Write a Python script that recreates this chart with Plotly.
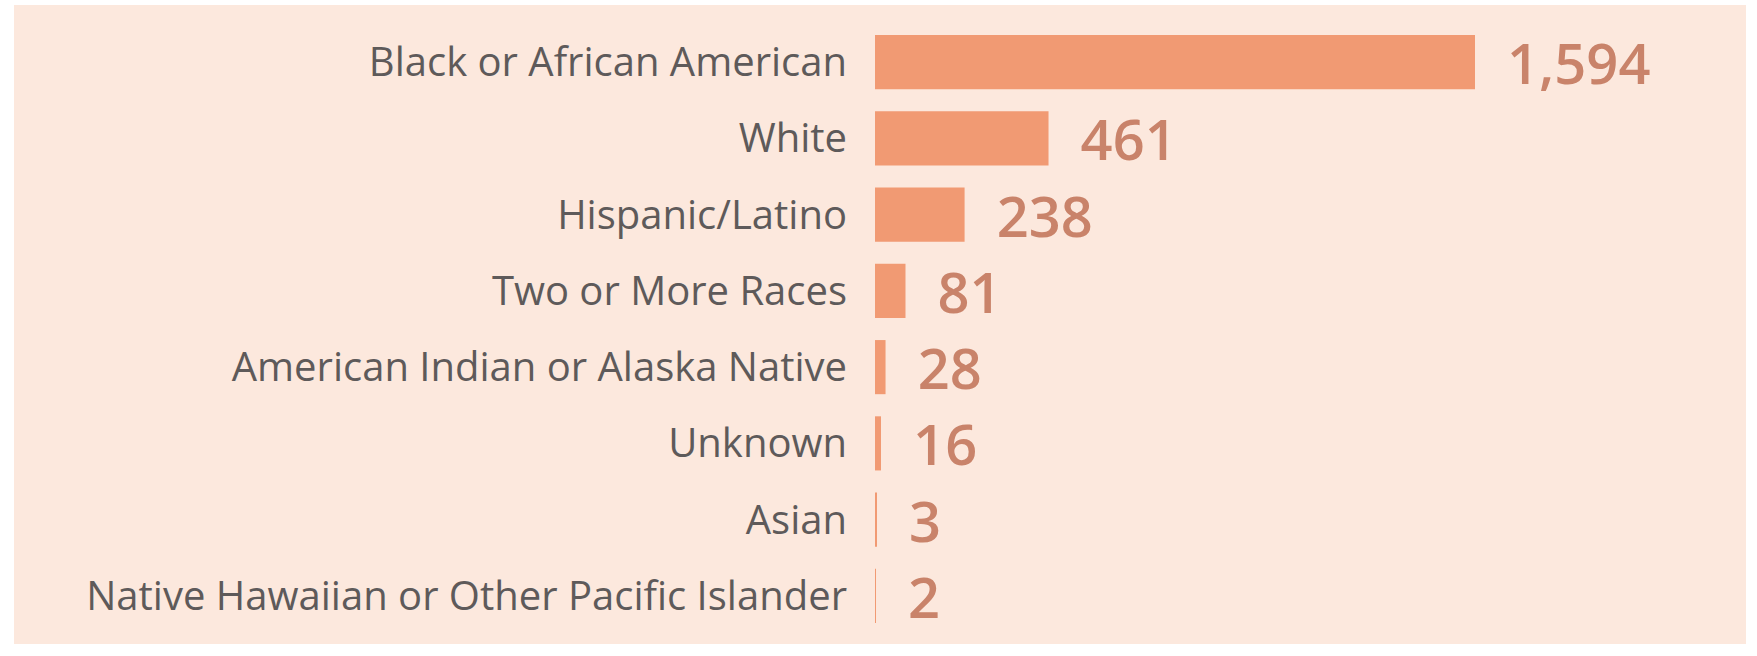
import plotly.graph_objects as go

categories = [
    "Black or African American",
    "White",
    "Hispanic/Latino",
    "Two or More Races",
    "American Indian or Alaska Native",
    "Unknown",
    "Asian",
    "Native Hawaiian or Other Pacific Islander",
]
values = [1594, 461, 238, 81, 28, 16, 3, 2]

BAR = "#F19A73"
TEXT_VAL = "#C9836A"
LABEL = "#5E5A5A"
PEACH = "#FCE8DD"

W, H = 1757, 656
L, R, T, B = 875, 17, 24, 22
pw = W - L - R
ph = H - T - B

fig = go.Figure(
    go.Bar(
        x=values,
        y=categories,
        orientation="h",
        marker=dict(color=BAR, line=dict(width=0)),
        texttemplate="\u00a0\u00a0%{x:,}",
        textposition="outside",
        constraintext="none",
        cliponaxis=False,
        textfont=dict(family="Open Sans", size=56, color=TEXT_VAL, weight=600),
        hoverinfo="skip",
    )
)

fig.add_shape(
    type="rect", xref="paper", yref="paper",
    x0=(14 - L) / pw, x1=(1746 - L) / pw,
    y0=-(644 - (H - B)) / ph, y1=1 + (T - 5) / ph,
    fillcolor=PEACH, line=dict(width=0), layer="below",
)

fig.update_layout(
    width=W, height=H,
    margin=dict(l=L, r=R, t=T, b=B, pad=0),
    paper_bgcolor="white",
    plot_bgcolor="rgba(0,0,0,0)",
    bargap=0.29,
    showlegend=False,
    xaxis=dict(range=[0, 2298], visible=False, showgrid=False, zeroline=False),
    yaxis=dict(
        autorange="reversed",
        showgrid=False, zeroline=False, showline=False, ticks="",
        ticklabelstandoff=27,
        tickfont=dict(family="Open Sans", size=40, color=LABEL),
    ),
)

fig.write_html(
    "out.html",
    config={"displayModeBar": False},
    post_script="document.body.style.margin='0';document.body.style.padding='0';",
)
